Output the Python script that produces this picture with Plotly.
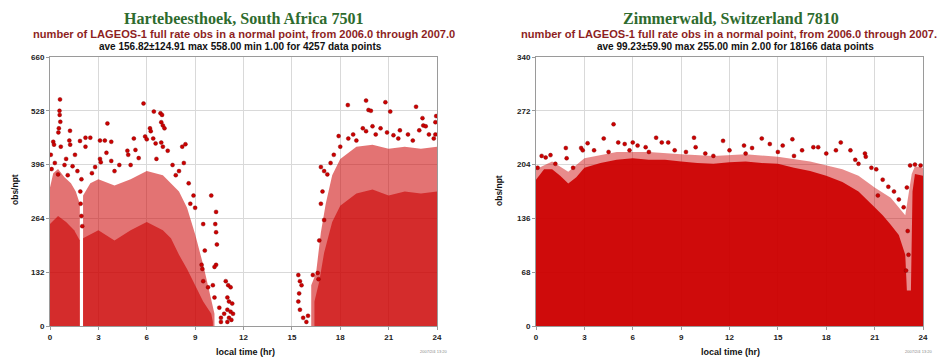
import plotly.graph_objects as go

# ---------------- data ----------------
HOUR_TICKS = [0, 3, 6, 9, 12, 15, 18, 21, 24]
HART_YTICKS = [0, 132, 264, 396, 528, 660]
ZIMM_YTICKS = [0, 68, 136, 204, 272, 340]

# Hartebeesthoek: density envelopes of the packed point cloud (hours, obs/npt)
HART_MID_A_H = [0, 0.2, 0.5, 0.9, 1.3, 1.6, 1.85]
HART_MID_A_Y = [340, 375, 385, 365, 350, 330, 300]
HART_CORE_A_H = [0, 0.5, 1.0, 1.5, 1.85]
HART_CORE_A_Y = [250, 270, 255, 235, 210]

HART_MID_B_H = [2.05, 2.5, 3, 4, 5, 6, 7, 8, 8.5, 9, 9.5, 10, 10.2]
HART_MID_B_Y = [320, 350, 360, 345, 360, 380, 370, 330, 290, 225, 150, 60, 30]
HART_CORE_B_H = [2.05, 3, 4, 5, 6, 7, 7.5, 8, 8.5, 9, 9.5, 10, 10.1]
HART_CORE_B_Y = [215, 235, 210, 235, 255, 235, 215, 175, 140, 100, 60, 30, 10]

HART_MID_C_H = [16.2, 16.5, 16.8, 17.1, 17.5, 18, 19, 20, 21, 22, 23, 24]
HART_MID_C_Y = [100, 130, 230, 300, 370, 410, 440, 445, 435, 440, 435, 440]
HART_CORE_C_H = [16.4, 16.7, 17, 17.5, 18, 19, 20, 21, 22, 23, 24]
HART_CORE_C_Y = [60, 110, 180, 255, 295, 325, 335, 320, 330, 325, 330]

# Hartebeesthoek: individually visible points
HART_PTS_H = [
    0.62, 0.59, 0.6, 0.64, 0.55, 0.52, 1.24, 0.2, 0.25, 0.67, 1.2, 1.25, 1.86, 1.55, 1.0,
    0.3, 0.9, 1.4, 1.7, 0.1, 0.5, 1.1, 1.95, 1.9, 1.95, 2.0, 1.88, 0.05,
    2.2, 2.5, 2.2, 3.1, 3.4, 3.8, 3.56, 3.1, 3.15, 3.5, 3.8, 5.8, 6.44, 6.85, 6.95, 6.9,
    7.0, 6.2, 6.25, 7.1, 5.9, 6.0, 6.4, 6.55, 6.9, 7.0, 7.3, 5.2, 4.8, 4.85, 5.3, 5.5,
    8.2, 8.4, 8.3, 4.3, 4.0, 2.8, 2.6, 5.0, 6.6, 7.6, 7.8, 8.0, 8.6, 8.9, 9.0, 8.7, 9.5,
    9.6, 9.4, 9.5, 9.45, 10.0, 10.3, 10.25, 10.3, 10.35, 10.3, 10.2, 10.1, 10.2, 9.8,
    10.9, 11.05, 11.2, 11.0, 11.1, 11.3, 11.0, 11.2, 11.35, 11.1, 11.25, 11.0, 10.6, 10.8,
    10.5, 10.6,
    15.5, 15.4, 15.6, 15.45, 15.4, 15.5, 15.7, 15.9, 16.0, 16.3, 16.6, 16.65, 16.7, 17.0,
    16.8, 16.9, 16.8, 17.0, 17.2, 17.9, 18.0, 18.47, 19.6, 19.75, 19.9, 20.8, 21.1, 22.7,
    23.1, 23.15, 23.3, 23.95, 23.9, 19.4, 19.6, 20.0, 20.2, 20.5, 20.9, 21.3, 21.7, 21.6,
    22.2, 22.5, 23.5, 23.8, 18.5, 18.8, 19.0, 17.6, 17.4, 22.9, 23.9,
]
HART_PTS_Y = [
    556, 528, 518, 501, 485, 475, 479, 452, 445, 440, 455, 445, 454, 420, 410,
    400, 395, 392, 380, 385, 372, 370, 360, 300, 270, 245, 330, 420,
    462, 462, 440, 455, 455, 452, 497, 410, 402, 425, 405, 546, 526, 522, 518, 500,
    492, 485, 478, 485, 465, 458, 460, 448, 450, 440, 430, 460, 430, 420, 432, 412,
    440, 446, 400, 395, 380, 390, 375, 395, 410, 395, 370, 380, 350, 320, 290, 300, 250,
    185, 150, 110, 140, 320, 280, 250, 230, 200, 150, 145, 100, 70, 95,
    110, 100, 95, 70, 60, 55, 40, 35, 30, 20, 15, 10, 20, 30,
    45, 10,
    110, 125, 100, 80, 60, 40, 20, 10, 25, 125, 130, 115, 210, 260,
    300, 330, 390, 380, 372, 466, 440, 542, 553, 530, 528, 549, 526, 538,
    510, 492, 490, 515, 500, 485, 478, 490, 470, 485, 475, 468, 480, 460,
    470, 455, 470, 460, 460, 470, 455, 420, 400, 480, 470,
]

# Zimmerwald: density envelopes
ZIMM_CORE_H = [0, 0.5, 1, 1.5, 2, 2.5, 3, 4, 5, 6, 7, 8, 9, 10, 11, 12, 13, 14, 15, 16,
               17, 18, 19, 20, 21, 21.5, 22, 22.5, 22.9, 23.0, 23.25, 23.35, 23.5, 24]
ZIMM_CORE_Y = [185, 198, 198, 190, 180, 188, 200, 206, 210, 212, 210, 210, 208, 206, 205,
               207, 208, 206, 205, 200, 196, 190, 182, 170, 150, 140, 128, 115, 90, 45,
               45, 170, 192, 190]
ZIMM_MID_H = [0, 1, 2, 3, 5, 7, 9, 11, 13, 15, 17, 19, 20, 21, 22, 22.9, 23.3, 23.5, 24]
ZIMM_MID_Y = [198, 208, 195, 212, 220, 220, 217, 215, 217, 214, 208, 198, 190, 175, 162, 140, 192, 202, 200]

# Zimmerwald: individually visible points
ZIMM_PTS_H = [
    4.81, 4.2, 5.1, 5.5, 6.0, 6.3, 6.8, 7.45, 7.8, 8.2, 9.8, 9.9, 3.2, 2.8, 2.9, 1.85,
    0.35, 0.6, 0.9, 1.9, 1.2, 0.1, 2.3, 3.6, 4.5, 5.8, 7.0, 8.6, 9.3, 10.5, 11.6, 12.0,
    14.0, 12.9, 13.4, 14.5, 15.3, 15.9, 16.5, 17.2, 17.5, 18.0, 18.9, 18.6, 19.5, 20.4,
    20.45, 20.0, 20.8, 21.1, 21.85, 22.2, 21.2, 21.5, 22.5, 22.8, 23.0, 23.2, 23.5, 23.85,
    23.05, 23.1, 22.95, 11.0, 13.0, 15.0, 16.0, 19.8,
]
ZIMM_PTS_Y = [
    255, 237, 232, 230, 232, 228, 226, 238, 232, 232, 238, 226, 231, 225, 222, 225,
    215, 213, 216, 212, 205, 200, 200, 222, 220, 222, 220, 222, 220, 218, 234, 222,
    237, 228, 225, 230, 228, 236, 222, 226, 226, 218, 232, 222, 222, 218,
    214, 205, 200, 198, 176, 170, 165, 185, 160, 150, 175, 203, 204, 203,
    120, 90, 70, 215, 218, 220, 215, 210,
]

# ---------------- styling ----------------
W, H = 937, 360
RED = "#cc0000"


def fx(x):
    return x / W


def fy(y):
    return 1 - y / H


fig = go.Figure()


def add_fill(xs, ys, alpha, xa, ya):
    fig.add_trace(go.Scatter(
        x=xs, y=ys, mode="lines", fill="tozeroy",
        line=dict(width=0, color="rgba(204,0,0,0)"),
        fillcolor=f"rgba(204,0,0,{alpha})", hoverinfo="skip",
        xaxis=xa, yaxis=ya, showlegend=False))


def add_points(xs, ys, xa, ya):
    fig.add_trace(go.Scatter(
        x=xs, y=ys, mode="markers",
        marker=dict(size=4, color=RED, line=dict(width=0.4, color="#7a0000")),
        xaxis=xa, yaxis=ya, showlegend=False))


# Hartebeesthoek
for hx, hy in [(HART_MID_A_H, HART_MID_A_Y), (HART_MID_B_H, HART_MID_B_Y), (HART_MID_C_H, HART_MID_C_Y)]:
    add_fill(hx, hy, 0.55, "x", "y")
for hx, hy in [(HART_CORE_A_H, HART_CORE_A_Y), (HART_CORE_B_H, HART_CORE_B_Y), (HART_CORE_C_H, HART_CORE_C_Y)]:
    add_fill(hx, hy, 0.62, "x", "y")
add_points(HART_PTS_H, HART_PTS_Y, "x", "y")

# Zimmerwald
add_fill(ZIMM_MID_H, ZIMM_MID_Y, 0.45, "x2", "y2")
add_fill(ZIMM_CORE_H, ZIMM_CORE_Y, 0.92, "x2", "y2")
add_points(ZIMM_PTS_H, ZIMM_PTS_Y, "x2", "y2")

tickfont = dict(family="Liberation Sans, Arial", size=8, color="#222", weight="bold")
axis_common = dict(showgrid=True, gridcolor="#d9d9d9", gridwidth=1, showline=True,
                   linecolor="#9a9a9a", linewidth=1, mirror=True, ticks="outside",
                   ticklen=3, tickcolor="#9a9a9a", tickfont=tickfont, zeroline=False,
                   fixedrange=True, automargin=False)

ydom = [fy(326), fy(57)]
fig.update_layout(
    width=W, height=H, margin=dict(l=0, r=0, t=0, b=0, pad=0, autoexpand=False),
    paper_bgcolor="white", plot_bgcolor="white",
    xaxis=dict(domain=[fx(50), fx(437)], range=[0, 24], tickvals=HOUR_TICKS, anchor="y", **axis_common),
    yaxis=dict(domain=ydom, range=[0, 660], tickvals=HART_YTICKS, anchor="x", **axis_common),
    xaxis2=dict(domain=[fx(536), fx(923)], range=[0, 24], tickvals=HOUR_TICKS, anchor="y2", **axis_common),
    yaxis2=dict(domain=ydom, range=[0, 340], tickvals=ZIMM_YTICKS, anchor="x2", **axis_common),
)

SERIF = "Liberation Serif, Times New Roman, serif"
SANS = "Liberation Sans, Arial, sans-serif"
anns = []


def ann(text, x, y, size, color, family=SANS, weight="bold", angle=0, xanchor="center"):
    anns.append(dict(text=text, x=fx(x), y=fy(y), xref="paper", yref="paper",
                     showarrow=False, xanchor=xanchor, yanchor="middle", textangle=angle,
                     font=dict(family=family, size=size, color=color, weight=weight)))


SUB = "number of LAGEOS-1 full rate obs in a normal point, from 2006.0 through 2007.0"
ann("Hartebeesthoek, South Africa 7501", 244, 18, 16.1, "#2e6b2e", family=SERIF)
ann(SUB, 244, 34, 11.1, "#8e1f1f")
ann("ave 156.82±124.91 max 558.00 min 1.00 for 4257 data points", 240, 47, 10, "#111")
ann("obs/npt", 15, 190, 8.5, "#111", angle=-90)
ann("local time (hr)", 245, 352, 9, "#111")
ann("2007/2/4 13:20", 433, 351, 4, "#888", weight="normal")

ann("Zimmerwald, Switzerland 7810", 731, 18, 16.1, "#2e6b2e", family=SERIF)
ann(SUB, 519, 34, 11.1, "#8e1f1f", xanchor="left")
ann("ave 99.23±59.90 max 255.00 min 2.00 for 18166 data points", 735, 47, 10, "#111")
ann("obs/npt", 499, 191, 8.5, "#111", angle=-90)
ann("local time (hr)", 730, 352, 9, "#111")
ann("2007/2/4 13:20", 918, 351, 4, "#888", weight="normal")

fig.update_layout(annotations=anns)
fig.write_html(
    "out.html",
    config={"displayModeBar": False, "staticPlot": True},
    post_script="document.body.style.margin='0';document.body.style.padding='0';"
                "document.body.style.overflow='hidden';",
)
